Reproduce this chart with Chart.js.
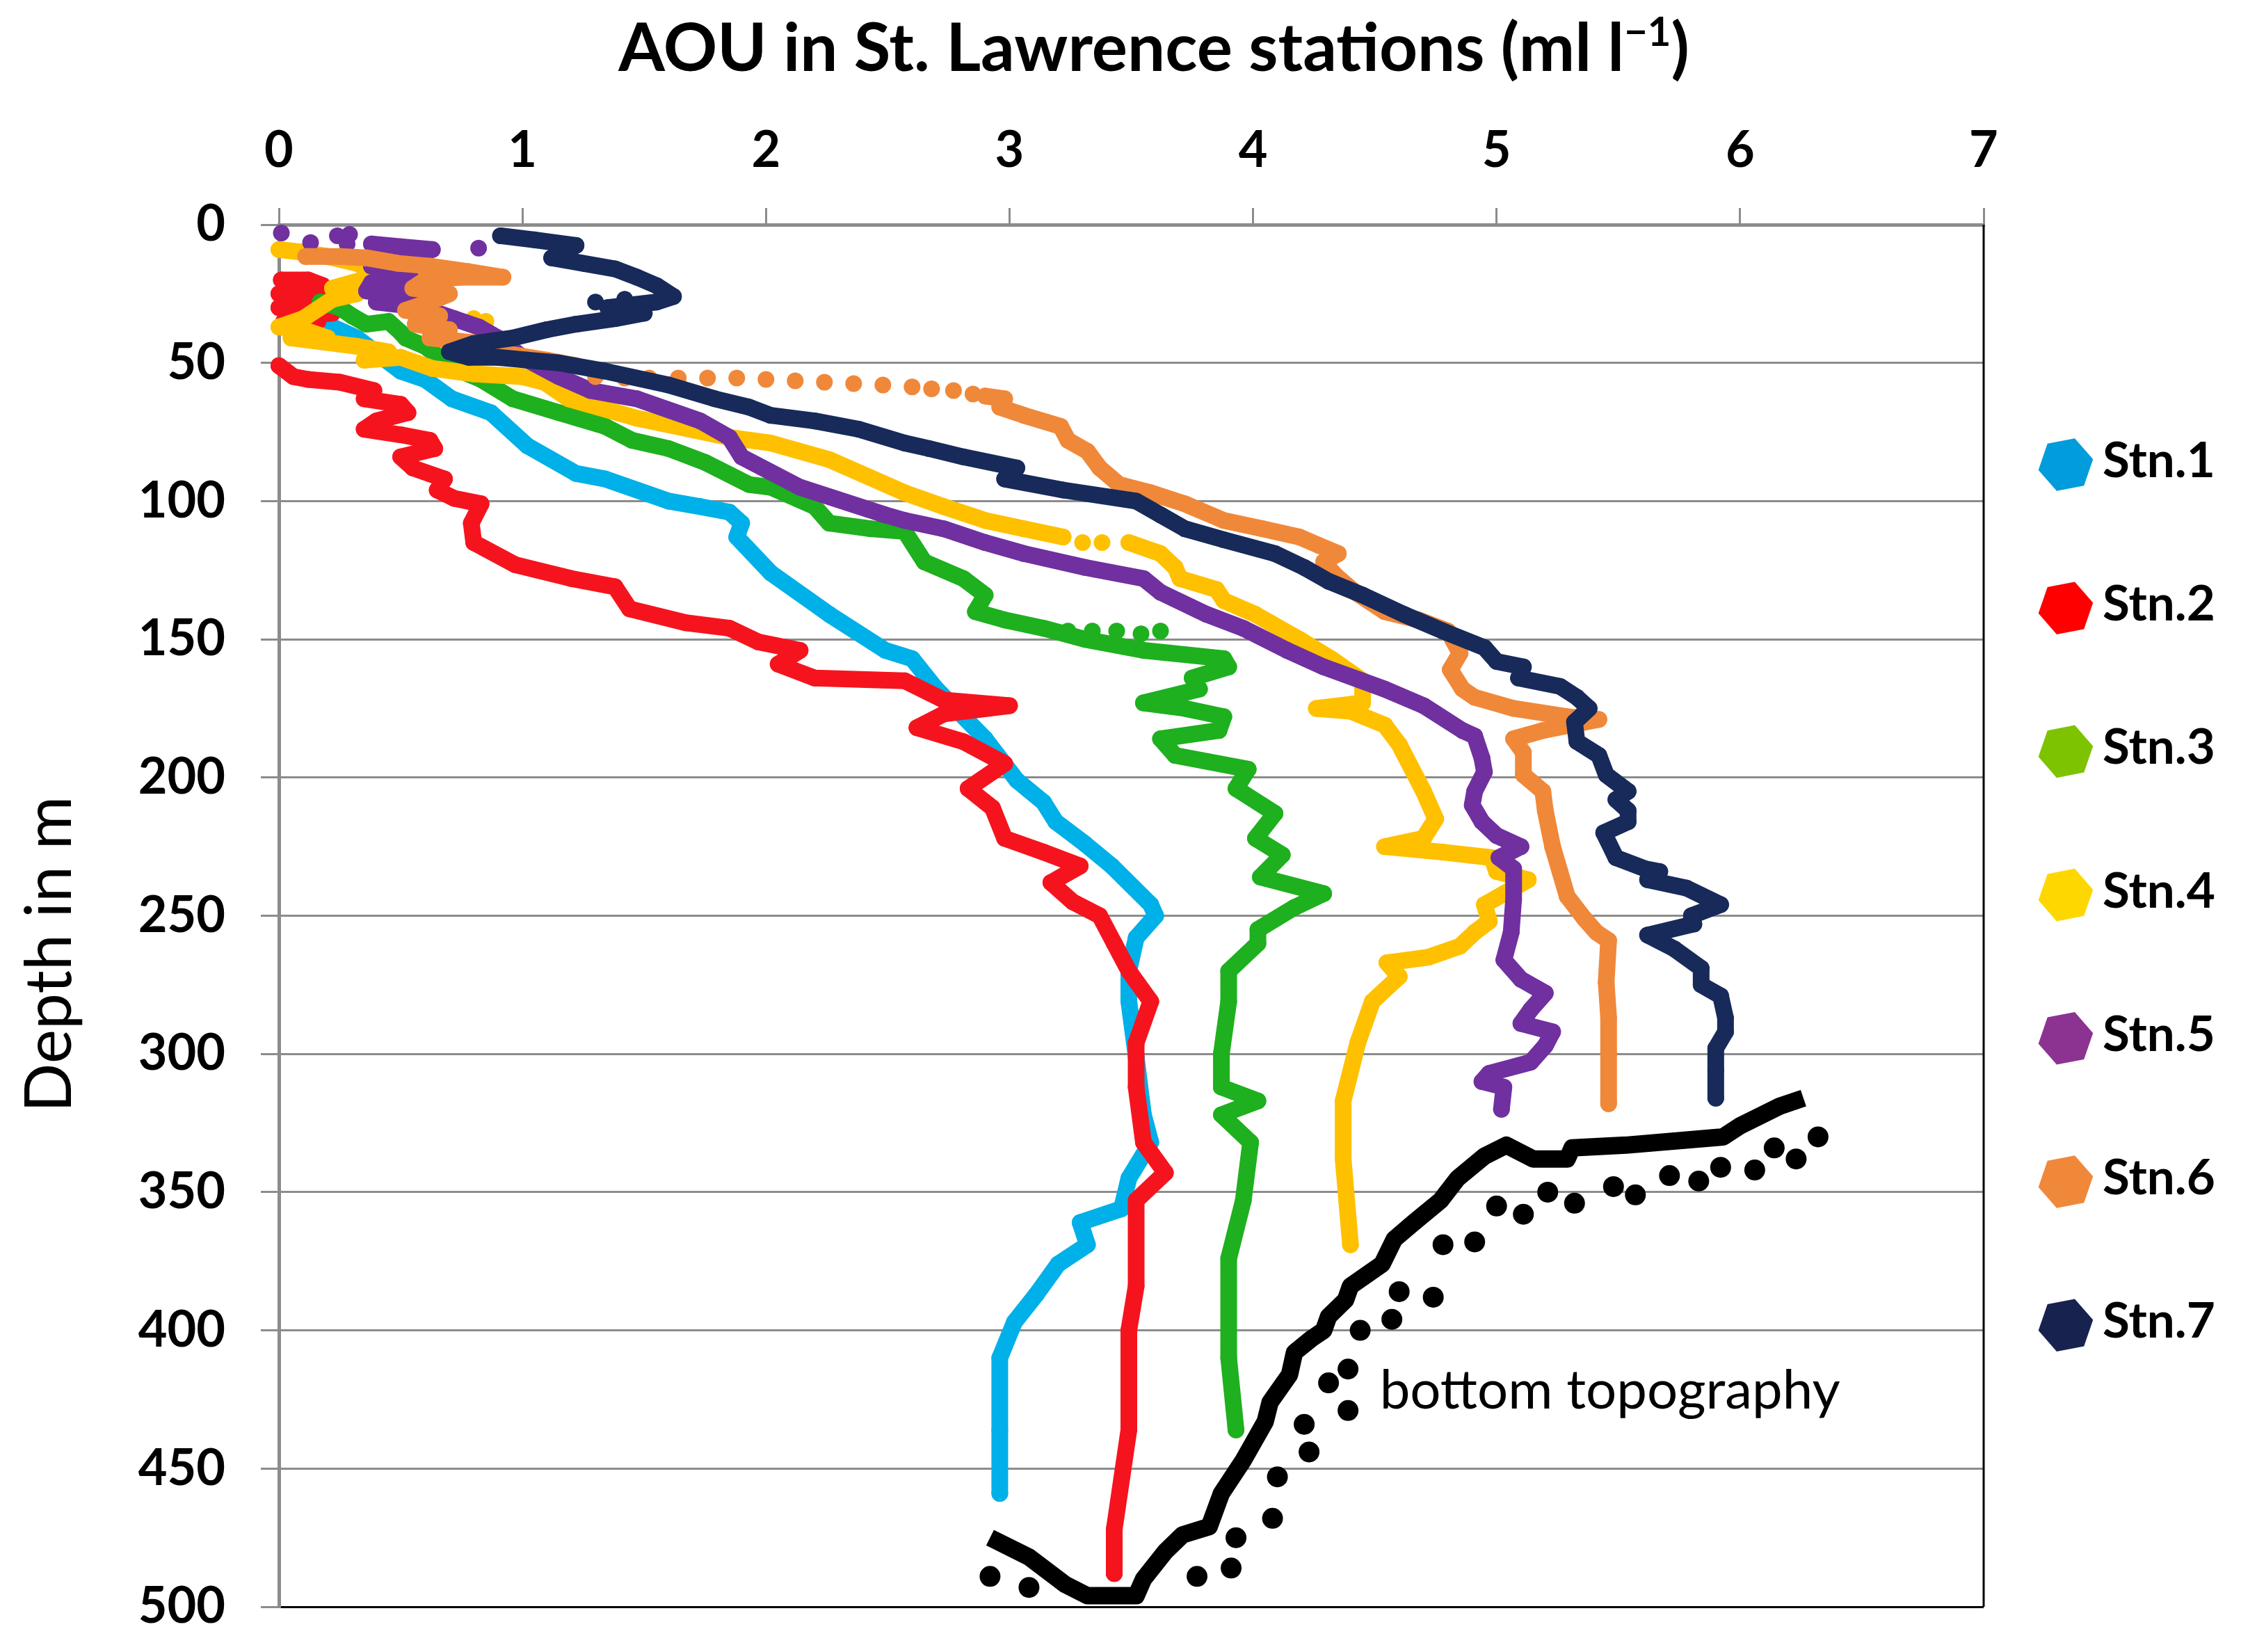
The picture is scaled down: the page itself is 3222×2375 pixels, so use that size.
<!DOCTYPE html>
<html>
<head>
<meta charset="utf-8">
<title>AOU in St. Lawrence stations</title>
<script src="https://cdn.jsdelivr.net/npm/chart.js@4.4.0/dist/chart.umd.min.js"></script>
<style>
  html, body { margin: 0; padding: 0; background: #fff; }
</style>
</head>
<body>
<canvas id="aou" width="3222" height="2375"></canvas>
<script>
// axis ticks
const aouTicks = [0, 1, 2, 3, 4, 5, 6, 7];
const depthTicks = [0, 50, 100, 150, 200, 250, 300, 350, 400, 450, 500];

const stations = ['Stn.1', 'Stn.2', 'Stn.3', 'Stn.4', 'Stn.5', 'Stn.6', 'Stn.7'];
const stationColors = ['#00b0e8', '#f5141e', '#1eb01e', '#ffc000', '#7030a0', '#f0883a', '#172a5a'];
const legendColors = ['#009cdc', '#ff0000', '#7dc300', '#ffd700', '#8c3391', '#f0883a', '#17224f'];

// profiles: [AOU (ml/l), depth (m)]
const stn1 = [[0.22,37],[0.32,41],[0.5,53],[0.6,56],[0.71,63],[0.87,68],[1.02,80],[1.22,90],[1.34,92],[1.6,100],[1.73,102],[1.85,104],[1.9,108],[1.88,113],[2.02,126],[2.26,141],[2.49,154],[2.6,157],[2.7,168],[2.9,186],[3.03,201],[3.14,209],[3.19,216],[3.31,224],[3.42,232],[3.58,246],[3.6,250],[3.52,258],[3.49,270],[3.49,281],[3.52,301],[3.55,322],[3.58,332],[3.49,345],[3.46,356],[3.29,361],[3.32,369],[3.2,376],[3.11,387],[3.02,397],[2.96,410],[2.96,436],[2.96,459]];
const stn2 = [[0.01,20],[0.12,20],[0.18,22],[0.05,23],[0,25],[0.15,25],[0.2,27],[0.05,28],[0,30],[0.15,30],[0.22,32],[0.1,33],[0.02,35],[0.16,35]];
const stn2b = [[0,51],[0.06,55],[0.12,56],[0.25,57],[0.39,60],[0.35,63],[0.5,65],[0.53,68],[0.4,71],[0.35,74],[0.5,76],[0.62,78],[0.64,81],[0.5,84],[0.55,88],[0.68,92],[0.65,96],[0.72,99],[0.83,101],[0.79,108],[0.8,115],[0.97,123],[1.2,128],[1.38,131],[1.44,139],[1.67,144],[1.85,146],[1.97,151],[2.14,154],[2.05,159],[2.2,164],[2.57,165],[2.73,172],[3.0,174],[2.73,177],[2.62,182],[2.81,187],[2.98,195],[2.83,204],[2.93,211],[2.98,222],[3.14,227],[3.29,232],[3.17,238],[3.26,245],[3.37,250],[3.43,260],[3.49,270],[3.58,281],[3.52,296],[3.52,312],[3.55,332],[3.64,343],[3.52,353],[3.52,384],[3.49,400],[3.49,436],[3.43,472],[3.43,488]];
const stn3 = [[0.17,28],[0.25,30],[0.3,33],[0.36,36],[0.45,35],[0.5,39],[0.52,41],[0.6,44],[0.66,48],[0.75,53],[0.83,56],[0.96,63],[1.15,68],[1.34,73],[1.45,78],[1.6,81],[1.75,86],[1.93,94],[2.02,95],[2.2,102],[2.26,108],[2.43,110],[2.57,111],[2.65,122],[2.81,128],[2.9,134],[2.86,140],[2.98,143],[3.14,146],[3.31,150],[3.55,154],[3.88,157],[3.9,160],[3.75,164],[3.78,168],[3.55,173],[3.72,175],[3.88,178],[3.86,183],[3.62,186],[3.68,192],[3.98,197],[3.93,204],[4.09,213],[4.01,222],[4.12,228],[4.03,236],[4.29,242],[4.17,247],[4.02,255],[4.02,260],[3.9,270],[3.9,281],[3.87,300],[3.87,312],[4.02,317],[3.87,322],[3.99,332],[3.96,353],[3.9,374],[3.9,410],[3.93,436]];
const stn3Dots = [[3.24,147],[3.34,147],[3.44,147],[3.54,148],[3.62,147]];
const stn4 = [[0,9],[0.1,10],[0.2,11.5],[0.32,14],[0.42,18],[0.3,21],[0.22,23],[0.32,25],[0.22,27],[0.1,34],[0,37],[0.1,38],[0.2,41],[0.05,41],[0.32,44],[0.45,46],[0.35,49],[0.5,48],[0.63,52],[0.8,54],[1.0,55],[1.09,57],[1.19,63],[1.47,70],[1.85,77],[2.02,79],[2.26,85],[2.57,97],[2.73,102],[2.9,107],[3.06,110],[3.22,113]];
const stn4b = [[3.49,115],[3.62,119],[3.68,124],[3.7,128],[3.85,132],[3.88,136],[4.01,141],[4.19,150],[4.32,157],[4.45,165],[4.45,173],[4.26,175],[4.4,176],[4.54,181],[4.6,188],[4.7,205],[4.75,215],[4.7,222],[4.54,225],[4.78,227],[4.98,229],[5.0,234],[5.13,237],[5.03,242],[4.95,246],[4.97,252],[4.91,256],[4.85,261],[4.72,265],[4.55,267],[4.6,272],[4.49,281],[4.43,296],[4.37,317],[4.37,338],[4.4,369]];
const stn4Dots = [[3.3,115],[3.38,115],[0.8,34],[0.85,35]];
const stn5 = [[0.38,7],[0.5,8],[0.63,9],[0.5,12],[0.38,15],[0.5,17],[0.55,20],[0.38,21],[0.36,24],[0.52,24],[0.55,27],[0.4,28],[0.5,29],[0.62,31],[0.72,34],[0.82,37],[0.9,41],[1.0,48],[1.15,55],[1.28,60],[1.47,63],[1.73,71],[1.85,77],[1.9,84],[2.14,95],[2.49,105],[2.57,107],[2.73,110],[2.9,115],[3.06,119],[3.31,124],[3.55,128],[3.62,133],[3.81,141],[3.96,146],[4.14,154],[4.29,160],[4.54,168],[4.7,174],[4.86,183],[4.91,185],[4.94,193],[4.95,198],[4.91,205],[4.9,210],[4.94,216],[5.0,221],[5.1,225],[5.01,229],[5.07,233],[5.07,244],[5.06,256],[5.03,266],[5.1,273],[5.2,278],[5.14,284],[5.1,289],[5.23,292],[5.2,297],[5.14,303],[4.97,307],[4.94,310],[5.03,312],[5.02,320]];
const stn5Dots = [[0.01,3],[0.13,6.5],[0.24,4],[0.29,3.5],[0.28,7],[0.82,8.5]];
const stn6 = [[0.11,11.5],[0.25,11.5],[0.36,12],[0.49,14],[0.62,15],[0.78,17],[0.92,19],[0.75,19],[0.6,20],[0.55,23],[0.7,25],[0.62,28],[0.52,31],[0.66,33],[0.56,36],[0.7,38],[0.62,41],[0.83,43],[0.96,47],[1.1,49],[1.22,51]];
const stn6b = [[2.9,62],[2.98,63],[2.96,66],[3.06,69],[3.21,73],[3.24,78],[3.32,82],[3.37,88],[3.45,94],[3.58,97],[3.72,101],[3.88,107],[4.04,110],[4.19,113],[4.27,116],[4.35,119],[4.29,122],[4.34,127],[4.42,133],[4.54,140],[4.68,143],[4.8,147],[4.85,155],[4.81,161],[4.86,168],[4.91,171],[5.07,175],[5.29,178],[5.42,179],[5.19,183],[5.07,186],[5.11,191],[5.11,199],[5.19,205],[5.2,212],[5.23,225],[5.26,234],[5.29,243],[5.36,251],[5.41,256],[5.46,259],[5.45,274],[5.46,287],[5.46,300],[5.46,318]];
const stn6Dots = [[1.3,55],[1.42,55.5],[1.52,55.5],[1.64,55.5],[1.76,55.5],[1.88,55.5],[2.0,56],[2.12,56.5],[2.24,57],[2.36,57.5],[2.48,58],[2.6,58.7],[2.68,59.4],[2.77,60],[2.85,61.3]];
const stn7 = [[0.91,4],[1.05,5.5],[1.22,7.5],[1.12,12],[1.25,14],[1.38,16],[1.47,19],[1.55,22],[1.62,26],[1.55,28],[1.45,29],[1.35,30],[1.5,32],[1.38,34],[1.22,36],[1.1,38],[0.96,41],[0.8,43],[0.7,46],[0.78,48],[0.9,48],[1.02,49],[1.15,50],[1.34,53],[1.6,58],[1.79,63],[1.93,66],[2.02,69],[2.2,71],[2.38,74],[2.57,79],[2.67,81],[2.81,84],[3.03,88],[2.98,92],[3.22,96],[3.52,100],[3.62,105],[3.72,110],[3.88,114],[4.09,119],[4.21,124],[4.31,129],[4.45,134],[4.62,141],[4.78,147],[4.95,153],[5.0,158],[5.11,160],[5.09,164],[5.26,167],[5.33,171],[5.38,175],[5.32,180],[5.33,187],[5.42,192],[5.45,199],[5.54,205],[5.49,208],[5.54,212],[5.54,216],[5.44,220],[5.49,229],[5.61,233],[5.67,234],[5.62,237],[5.78,240],[5.92,246],[5.8,250],[5.81,253],[5.62,257],[5.73,262],[5.84,269],[5.84,275],[5.92,279],[5.94,287],[5.94,292],[5.9,298],[5.9,306],[5.9,316]];
const stn7Dots = [[1.3,28],[1.42,27]];

// bottom topography
const bottomLine = [[2.92,475],[3.08,482],[3.23,492],[3.32,496],[3.52,496],[3.55,490],[3.64,480],[3.71,474],[3.82,471],[3.87,459],[3.96,447],[4.05,433],[4.07,426],[4.15,416],[4.17,408],[4.24,403],[4.29,400],[4.31,395],[4.38,389],[4.4,384],[4.53,376],[4.58,367],[4.66,361],[4.77,353],[4.84,345],[4.95,337],[5.04,333],[5.15,338],[5.29,338],[5.31,334],[5.53,333],[5.93,330],[6.0,326],[6.16,319],[6.26,316]];
const bottomDots = [[2.92,489],[3.08,493],[3.77,489],[3.91,486],[3.93,475],[4.08,468],[4.1,453],[4.23,444],[4.21,434],[4.39,429],[4.31,419],[4.39,414],[4.44,400],[4.57,396],[4.6,386],[4.74,388],[4.78,369],[4.91,368],[5.0,355],[5.11,358],[5.21,350],[5.32,354],[5.48,348],[5.57,351],[5.71,344],[5.83,346],[5.92,341],[6.06,342],[6.14,334],[6.23,338],[6.32,330]];

const traces = [[stn1], [stn2, stn2b], [stn3], [stn4, stn4b], [stn5], [stn6, stn6b], [stn7]];
const dots = [[], [], stn3Dots, stn4Dots, stn5Dots, stn6Dots, stn7Dots];

const toXY = arr => arr.map(p => ({ x: p[0], y: p[1] }));

const datasets = [];
stations.forEach((name, i) => {
  const c = stationColors[i];
  traces[i].forEach(part => {
    datasets.push({
      label: name, data: toXY(part), showLine: true,
      borderColor: c, backgroundColor: c, borderWidth: 24,
      borderJoinStyle: 'round', borderCapStyle: 'round',
      pointRadius: 12, pointBorderWidth: 0, pointHoverRadius: 12,
      order: 10 - i, clip: 14
    });
  });
  if (dots[i].length) {
    datasets.push({
      label: name, data: toXY(dots[i]), showLine: false,
      backgroundColor: c, pointRadius: 12, pointBorderWidth: 0,
      order: 10 - i, clip: 14
    });
  }
});
datasets.push({
  label: 'bottom topography', data: toXY(bottomLine), showLine: true,
  borderColor: '#000', borderWidth: 25, borderJoinStyle: 'round', pointRadius: 0, order: 0
});
datasets.push({
  label: 'bottom topography dots', data: toXY(bottomDots), showLine: false,
  backgroundColor: '#000', pointRadius: 15, pointBorderWidth: 0, order: 0
});

// frame, title, axis title, legend and note
const decor = {
  id: 'decor',
  beforeDatasetsDraw(chart) {
    const { ctx, chartArea: a } = chart;
    ctx.save();
    ctx.strokeStyle = '#000';
    ctx.lineWidth = 3;
    ctx.beginPath();
    ctx.moveTo(a.right, a.top);
    ctx.lineTo(a.right, a.bottom);
    ctx.stroke();
    ctx.restore();
  },
  afterDraw(chart) {
    const { ctx, scales: { x, y } } = chart;
    ctx.save();
    ctx.fillStyle = '#000';

    // title with superscript
    const size = 96;
    const main = 'AOU in St. Lawrence stations (ml l';
    ctx.font = `bold ${size}px Lato`;
    const w1 = ctx.measureText(main).width;
    const w3 = ctx.measureText(')').width;
    ctx.font = `bold ${Math.round(size * 0.6)}px Lato`;
    const w2 = ctx.measureText('\u22121').width;
    let tx = 1659 - (w1 + w2 + w3) / 2;
    const base = 102;
    ctx.textBaseline = 'alphabetic';
    ctx.textAlign = 'left';
    ctx.font = `bold ${size}px Lato`;
    ctx.fillText(main, tx, base);
    tx += w1;
    ctx.font = `bold ${Math.round(size * 0.6)}px Lato`;
    ctx.fillText('\u22121', tx, base - size * 0.38);
    tx += w2;
    ctx.font = `bold ${size}px Lato`;
    ctx.fillText(')', tx, base);

    // y axis title
    ctx.save();
    ctx.translate(102, 1372);
    ctx.rotate(-Math.PI / 2);
    ctx.font = '93px Lato';
    ctx.textAlign = 'center';
    ctx.fillText('Depth in m', 0, 0);
    ctx.restore();

    // legend
    ctx.font = 'bold 71px Lato';
    stations.forEach((name, i) => {
      const cy = 668 + i * 206.2;
      const cx = 2970;
      ctx.fillStyle = legendColors[i];
      ctx.beginPath();
      for (let k = 0; k < 6; k++) {
        const ang = (-11 + k * 60) * Math.PI / 180;
        const px = cx + 40 * Math.cos(ang), py = cy + 40 * Math.sin(ang);
        if (k === 0) ctx.moveTo(px, py); else ctx.lineTo(px, py);
      }
      ctx.closePath();
      ctx.fill();
      ctx.fillStyle = '#000';
      ctx.fillText(name, 3023, cy + 18);
    });

    // note
    ctx.font = '78px Lato';
    ctx.fillText('bottom topography', x.getPixelForValue(4.52), y.getPixelForValue(428.3));
    ctx.restore();
  }
};

Chart.defaults.font.family = 'Lato';
Chart.defaults.color = '#000';

new Chart(document.getElementById('aou'), {
  type: 'scatter',
  data: { datasets },
  options: {
    responsive: false,
    animation: false,
    events: [],
    layout: { padding: { left: 0, top: 0, right: 370, bottom: 65 } },
    plugins: { legend: { display: false }, tooltip: { enabled: false } },
    scales: {
      x: {
        type: 'linear', position: 'top', min: 0, max: 7,
        afterBuildTicks: s => { s.ticks = aouTicks.map(v => ({ value: v })); },
        afterFit: s => { s.height = 323; s.paddingLeft = 0; s.paddingRight = 0; s.paddingTop = 0; s.paddingBottom = 0; },
        ticks: { font: { size: 72, weight: 'bold' }, color: '#000', padding: 39 },
        grid: { drawOnChartArea: false, drawTicks: true, tickLength: 24, color: '#8c8c8c', lineWidth: 3 },
        border: { color: '#8c8c8c', width: 5 }
      },
      y: {
        type: 'linear', position: 'left', reverse: true, min: 0, max: 500,
        afterBuildTicks: s => { s.ticks = depthTicks.map(v => ({ value: v })); },
        afterFit: s => { s.width = 401; s.paddingLeft = 0; s.paddingRight = 0; s.paddingTop = 0; s.paddingBottom = 0; },
        ticks: { font: { size: 72, weight: 'bold' }, color: '#000', padding: 51 },
        grid: {
          color: ctx => (ctx.tick && ctx.tick.value === 500 ? '#000' : '#8c8c8c'),
          tickColor: '#8c8c8c', lineWidth: 3, tickLength: 26
        },
        border: { color: '#8c8c8c', width: 5 }
      }
    }
  },
  plugins: [decor]
});
</script>
</body>
</html>
